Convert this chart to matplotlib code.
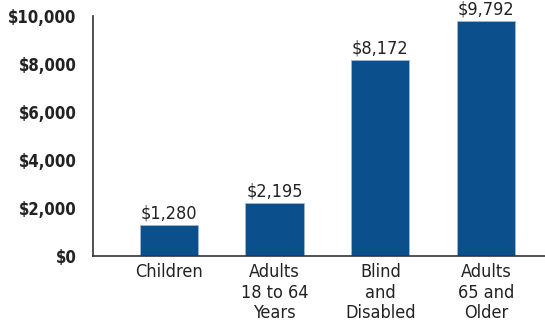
import matplotlib.pyplot as plt
from matplotlib.ticker import FuncFormatter

categories = ['Children', 'Adults\n18 to 64\nYears', 'Blind\nand\nDisabled', 'Adults\n65 and\nOlder']
spending = [1280, 2195, 8172, 9792]
value_labels = ['$1,280', '$2,195', '$8,172', '$9,792']
yticks = [0, 2000, 4000, 6000, 8000, 10000]

plt.rcParams['font.family'] = ['DejaVu Sans']
plt.rcParams['font.stretch'] = 'condensed'

fig = plt.figure(figsize=(5.45, 3.35), dpi=100)
ax = fig.add_axes([0.1706, 0.236, 0.8294, 0.717])

x = list(range(len(categories)))
bars = ax.bar(x, spending, width=0.55, color='#0b4f8c', edgecolor='#9fb7d0', linewidth=0.6)

for xi, v, lab in zip(x, spending, value_labels):
    ax.text(xi, v + 110, lab, ha='center', va='bottom', fontsize=13, color='#222222',
            fontstretch='condensed')

ax.set_xlim(-0.717, 3.557)
ax.set_ylim(0, 10000)
ax.set_yticks(yticks)
ax.yaxis.set_major_formatter(FuncFormatter(lambda v, p: f'${int(v):,}'))
ax.set_xticks(x)
ax.set_xticklabels(categories, fontsize=13, linespacing=1.2, color='#222222', fontstretch='condensed')
for t in ax.get_yticklabels():
    t.set_fontsize(12)
    t.set_fontweight('bold')
    t.set_fontstretch('condensed')
    t.set_color('#222222')

ax.tick_params(axis='both', length=0)
ax.tick_params(axis='y', pad=12)
ax.tick_params(axis='x', pad=5)
for s in ['top', 'right']:
    ax.spines[s].set_visible(False)
for s in ['left', 'bottom']:
    ax.spines[s].set_color('#333333')
    ax.spines[s].set_linewidth(1.2)

fig.savefig('out.png', dpi=100)
